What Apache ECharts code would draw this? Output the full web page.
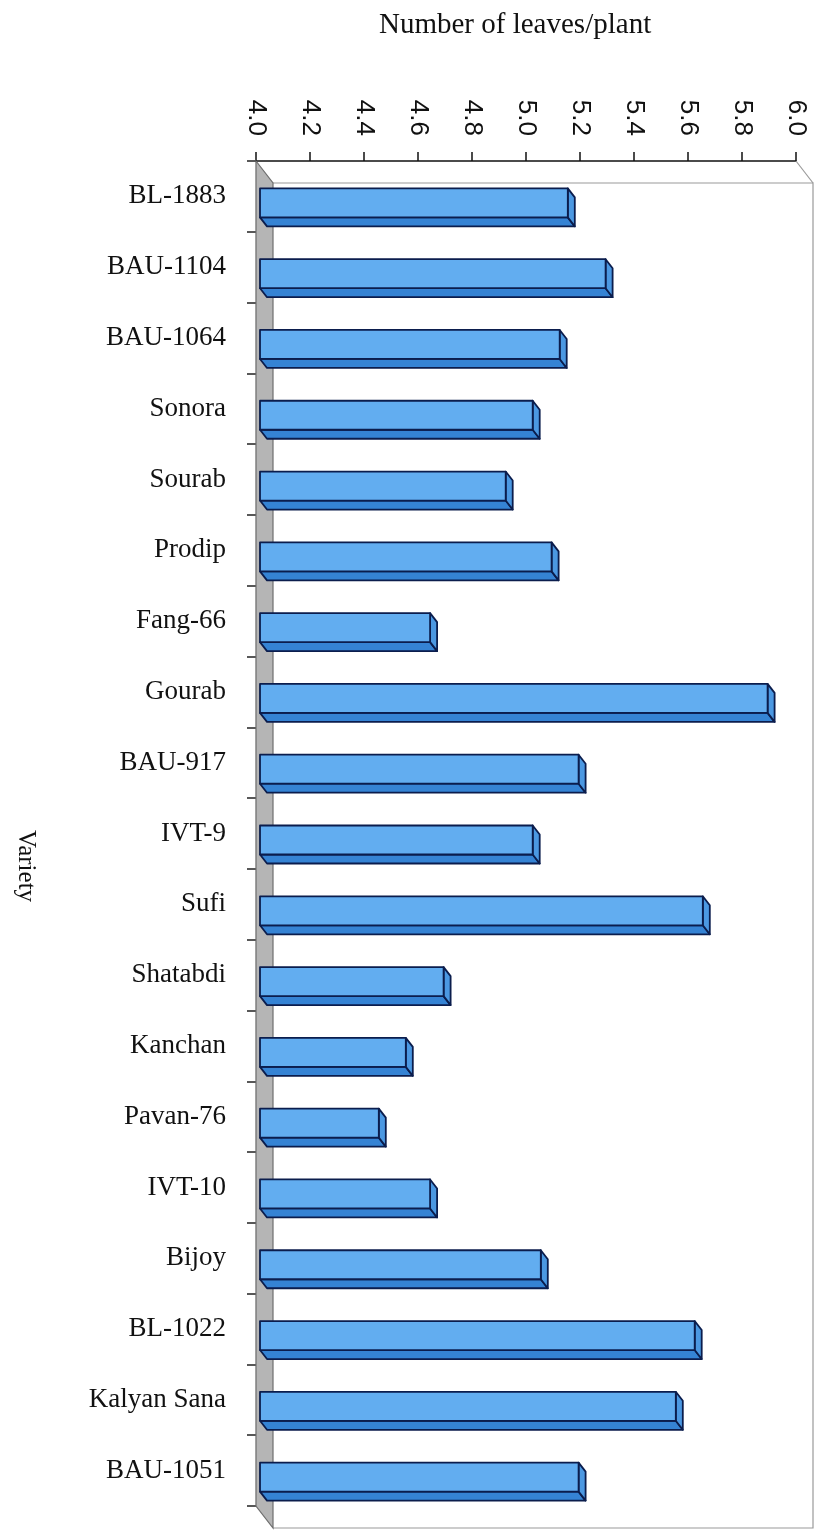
<!DOCTYPE html>
<html>
<head>
<meta charset="utf-8">
<title>Number of leaves/plant by variety</title>
<script src="https://cdn.jsdelivr.net/npm/echarts@6/dist/echarts.min.js"></script>
<style>
  html, body { margin: 0; padding: 0; background: #ffffff; }
  #chart { width: 818px; height: 1530px; }
</style>
</head>
<body>
<div id="chart"></div>
<script>
// Varieties, top to bottom
const categories = [
  'BL-1883', 'BAU-1104', 'BAU-1064', 'Sonora', 'Sourab', 'Prodip', 'Fang-66',
  'Gourab', 'BAU-917', 'IVT-9', 'Sufi', 'Shatabdi', 'Kanchan', 'Pavan-76',
  'IVT-10', 'Bijoy', 'BL-1022', 'Kalyan Sana', 'BAU-1051'
];

// Mean number of leaves per plant for each variety
const leaves = [
  5.14, 5.28, 5.11, 5.01, 4.91, 5.08, 4.63,
  5.88, 5.18, 5.01, 5.64, 4.68, 4.54, 4.44,
  4.63, 5.04, 5.61, 5.54, 5.18
];

// Value axis range and step
const axisMin = 4.0;
const axisMax = 6.0;
const axisStep = 0.2;

const SERIF = 'Liberation Serif, Times New Roman, serif';
const SANS = 'Liberation Sans, Arial, sans-serif';

// Depth of the 3D box (floor / back wall) and of each bar
const WALL_DX = 17, WALL_DY = 22;
const BAR_DX = 7, BAR_DY = 9;

// Floor, back wall and side edge of the 3D plot box
function renderFrame(params, api) {
  const cs = params.coordSys;
  const x = cs.x, y = cs.y, w = cs.width, h = cs.height;
  return {
    type: 'group',
    children: [
      {
        type: 'polyline',
        shape: { points: [[x + WALL_DX, y + WALL_DY], [x + w + WALL_DX, y + WALL_DY],
                          [x + w + WALL_DX, y + h + WALL_DY], [x + WALL_DX, y + h + WALL_DY]] },
        style: { stroke: '#9a9a9a', lineWidth: 1.2, fill: null }
      },
      {
        type: 'line',
        shape: { x1: x + w, y1: y, x2: x + w + WALL_DX, y2: y + WALL_DY },
        style: { stroke: '#9a9a9a', lineWidth: 1.2 }
      },
      {
        type: 'polygon',
        shape: { points: [[x, y], [x + WALL_DX, y + WALL_DY],
                          [x + WALL_DX, y + h + WALL_DY], [x, y + h]] },
        style: { fill: '#b5b5b5', stroke: '#6e6e6e', lineWidth: 1.2 }
      }
    ]
  };
}

// One 3D bar: front face, lower face and end face
function renderBar(params, api) {
  const v = api.value(0);
  const idx = api.value(1);
  const base = api.coord([axisMin, idx]);
  const end = api.coord([v, idx]);
  const xl = base[0] + 4;
  const xr = end[0] + 4;
  const yt = base[1] - 8;
  const yb = yt + 29;
  const edge = { stroke: '#0b1d4d', lineWidth: 1.8, lineJoin: 'round' };
  return {
    type: 'group',
    children: [
      {
        type: 'polygon',
        shape: { points: [[xl, yb], [xr, yb], [xr + BAR_DX, yb + BAR_DY], [xl + BAR_DX, yb + BAR_DY]] },
        style: Object.assign({ fill: '#3583d4' }, edge)
      },
      {
        type: 'polygon',
        shape: { points: [[xr, yt], [xr + BAR_DX, yt + BAR_DY], [xr + BAR_DX, yb + BAR_DY], [xr, yb]] },
        style: Object.assign({ fill: '#4b98e2' }, edge)
      },
      {
        type: 'rect',
        shape: { x: xl, y: yt, width: xr - xl, height: yb - yt },
        style: Object.assign({ fill: '#62adf0' }, edge)
      }
    ]
  };
}

const chart = echarts.init(document.getElementById('chart'), null, { renderer: 'canvas' });

chart.setOption({
  animation: false,
  backgroundColor: '#ffffff',
  title: {
    text: 'Number of leaves/plant',
    left: 374,
    top: 6,
    textStyle: { fontFamily: SERIF, fontSize: 29, fontWeight: 'normal', color: '#111' }
  },
  graphic: [
    {
      type: 'text',
      x: 26,
      y: 866,
      rotation: -Math.PI / 2,
      style: {
        text: 'Variety',
        font: '25px ' + SERIF,
        fill: '#111',
        textAlign: 'center',
        textVerticalAlign: 'middle'
      }
    }
  ],
  grid: { left: 256, top: 161, width: 540, height: 1345, containLabel: false },
  xAxis: {
    type: 'value',
    position: 'top',
    min: axisMin,
    max: axisMax,
    interval: axisStep,
    axisLine: { show: true, lineStyle: { color: '#111', width: 1.5 } },
    axisTick: { show: true, length: 9, lineStyle: { color: '#111', width: 1.5 } },
    splitLine: { show: false },
    axisLabel: {
      rotate: 90,
      margin: 25,
      fontFamily: SANS,
      fontSize: 26,
      color: '#111',
      formatter: v => v.toFixed(1)
    }
  },
  yAxis: {
    type: 'category',
    data: categories,
    inverse: true,
    axisLine: { show: true, lineStyle: { color: '#555', width: 1.2 } },
    axisTick: { show: true, length: 9, lineStyle: { color: '#222', width: 1.5 } },
    axisLabel: { margin: 30, fontFamily: SERIF, fontSize: 27, color: '#111' }
  },
  series: [
    {
      name: 'frame',
      type: 'custom',
      renderItem: renderFrame,
      data: [[axisMin, 0]],
      encode: { x: 0, y: 1 },
      z: 1,
      silent: true
    },
    {
      name: 'Number of leaves/plant',
      type: 'custom',
      renderItem: renderBar,
      data: leaves.map((v, i) => [v, i]),
      encode: { x: 0, y: 1 },
      z: 3
    }
  ]
});
</script>
</body>
</html>
